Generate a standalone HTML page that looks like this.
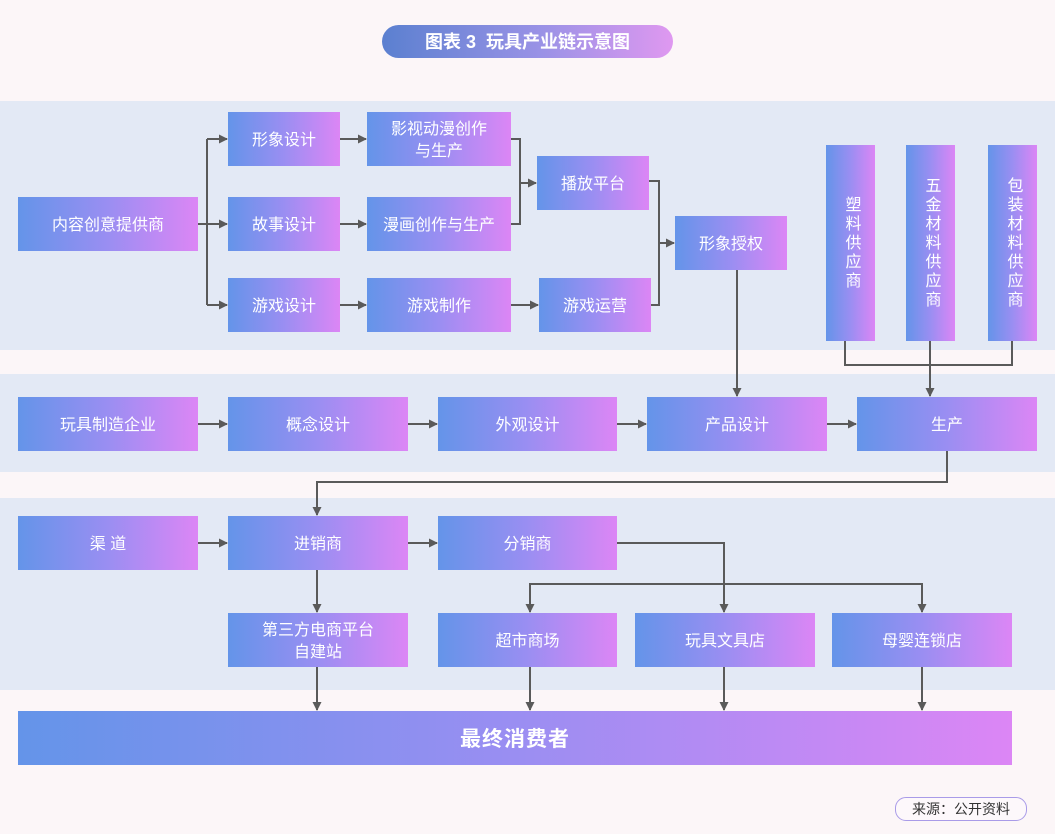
<!DOCTYPE html>
<html><head><meta charset="utf-8"><style>
body{margin:0;width:1055px;height:834px;background:#fcf6f8;position:relative;overflow:hidden;font-family:"Liberation Sans","Noto Sans CJK SC",sans-serif}
.band{position:absolute;left:0;width:1055px;background:#e3e9f5}
.b{position:absolute;display:flex;align-items:center;justify-content:center;text-align:center;color:#fff;font-size:16px;line-height:22px;background:linear-gradient(90deg,#6494e9,#9a8ef2 50%,#dc86f5);box-sizing:border-box;padding-top:3px}
.v{writing-mode:vertical-rl;letter-spacing:3px;font-size:16px;padding-top:0}
svg{position:absolute;left:0;top:0}
</style></head><body>
<div class="band" style="top:101px;height:249px"></div>
<div class="band" style="top:374px;height:98px"></div>
<div class="band" style="top:498px;height:192px"></div>
<div class="b" style="left:382px;top:25px;width:291px;height:33px;border-radius:17px;font-size:18px;font-weight:bold;padding-top:1px;background:linear-gradient(90deg,#5b80d0,#9a92e6 55%,#df98f0)">图表 3&nbsp;&nbsp;玩具产业链示意图</div>

<div class="b" style="left:18px;top:197px;width:180px;height:54px">内容创意提供商</div>
<div class="b" style="left:228px;top:112px;width:112px;height:54px">形象设计</div>
<div class="b" style="left:228px;top:197px;width:112px;height:54px">故事设计</div>
<div class="b" style="left:228px;top:278px;width:112px;height:54px">游戏设计</div>
<div class="b" style="left:367px;top:112px;width:144px;height:54px">影视动漫创作<br>与生产</div>
<div class="b" style="left:367px;top:197px;width:144px;height:54px">漫画创作与生产</div>
<div class="b" style="left:367px;top:278px;width:144px;height:54px">游戏制作</div>
<div class="b" style="left:537px;top:156px;width:112px;height:54px">播放平台</div>
<div class="b" style="left:539px;top:278px;width:112px;height:54px">游戏运营</div>
<div class="b" style="left:675px;top:216px;width:112px;height:54px">形象授权</div>
<div class="b v" style="left:826px;top:145px;width:49px;height:196px">塑料供应商</div>
<div class="b v" style="left:906px;top:145px;width:49px;height:196px">五金材料供应商</div>
<div class="b v" style="left:988px;top:145px;width:49px;height:196px">包装材料供应商</div>

<div class="b" style="left:18px;top:397px;width:180px;height:54px">玩具制造企业</div>
<div class="b" style="left:228px;top:397px;width:180px;height:54px">概念设计</div>
<div class="b" style="left:438px;top:397px;width:179px;height:54px">外观设计</div>
<div class="b" style="left:647px;top:397px;width:180px;height:54px">产品设计</div>
<div class="b" style="left:857px;top:397px;width:180px;height:54px">生产</div>

<div class="b" style="left:18px;top:516px;width:180px;height:54px">渠 道</div>
<div class="b" style="left:228px;top:516px;width:180px;height:54px">进销商</div>
<div class="b" style="left:438px;top:516px;width:179px;height:54px">分销商</div>
<div class="b" style="left:228px;top:613px;width:180px;height:54px">第三方电商平台<br>自建站</div>
<div class="b" style="left:438px;top:613px;width:179px;height:54px">超市商场</div>
<div class="b" style="left:635px;top:613px;width:180px;height:54px">玩具文具店</div>
<div class="b" style="left:832px;top:613px;width:180px;height:54px">母婴连锁店</div>
<div class="b" style="left:18px;top:711px;width:994px;height:54px;font-size:21px;font-weight:bold;letter-spacing:1px">最终消费者</div>

<div style="position:absolute;left:895px;top:797px;width:130px;height:22px;border:1.5px solid #a99be8;border-radius:11px;background:#fdf8fb;color:#333;font-size:14px;line-height:23px;text-align:center">来源：公开资料</div>

<svg width="1055" height="834">
<defs><marker id="a" markerWidth="9" markerHeight="9" refX="8" refY="4.5" orient="auto" markerUnits="userSpaceOnUse"><path d="M0,0L9,4.5L0,9z" fill="#5a5a5a"/></marker></defs>
<g stroke="#5a5a5a" stroke-width="2" fill="none">
<path d="M198,224H207M207,139V305"/>
<path d="M207,139H227" marker-end="url(#a)"/>
<path d="M207,224H227" marker-end="url(#a)"/>
<path d="M207,305H227" marker-end="url(#a)"/>
<path d="M340,139H366" marker-end="url(#a)"/>
<path d="M340,224H366" marker-end="url(#a)"/>
<path d="M340,305H366" marker-end="url(#a)"/>
<path d="M511,305H538" marker-end="url(#a)"/>
<path d="M511,139H520V224H511"/>
<path d="M520,183H536" marker-end="url(#a)"/>
<path d="M649,181H659V305H651"/>
<path d="M659,243H674" marker-end="url(#a)"/>
<path d="M737,270V396" marker-end="url(#a)"/>
<path d="M845,341V365H1012V341M930,341V396" />
<path d="M930,365V396" marker-end="url(#a)"/>
<path d="M198,424H227" marker-end="url(#a)"/>
<path d="M408,424H437" marker-end="url(#a)"/>
<path d="M617,424H646" marker-end="url(#a)"/>
<path d="M827,424H856" marker-end="url(#a)"/>
<path d="M947,451V482H317V515" marker-end="url(#a)"/>
<path d="M198,543H227" marker-end="url(#a)"/>
<path d="M408,543H437" marker-end="url(#a)"/>
<path d="M617,543H724V612" marker-end="url(#a)"/>
<path d="M530,612V584H922V612" />
<path d="M530,590V612" marker-end="url(#a)"/>
<path d="M922,590V612" marker-end="url(#a)"/>
<path d="M317,570V612" marker-end="url(#a)"/>
<path d="M317,667V710" marker-end="url(#a)"/>
<path d="M530,667V710" marker-end="url(#a)"/>
<path d="M724,667V710" marker-end="url(#a)"/>
<path d="M922,667V710" marker-end="url(#a)"/>
</g></svg>
</body></html>
